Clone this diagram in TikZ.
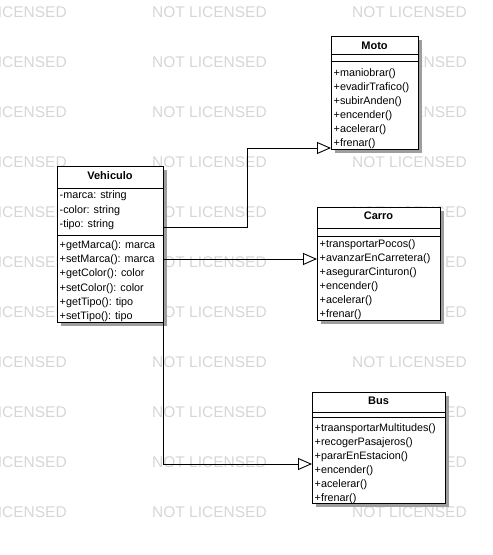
\documentclass[tikz,border=0pt]{standalone}
\usepackage{fontspec}
\setmainfont{Liberation Sans}
\usetikzlibrary{arrows.meta,shadows}

\tikzset{
  wmark/.style={anchor=west, inner sep=0pt, text=black!16,
    font=\fontsize{15.5}{17}\selectfont},
  classbox/.style={draw, fill=white, line width=0.9pt, anchor=north west,
    inner sep=0pt,
    drop shadow={shadow xshift=3.5pt, shadow yshift=-3.5pt,
      fill=black!38, opacity=1}},
  divider/.style={line width=0.9pt},
  classname/.style={anchor=base, inner sep=0pt,
    font=\fontsize{11}{13}\selectfont\bfseries},
  member/.style={anchor=base west, inner sep=0pt,
    font=\fontsize{10.8}{13}\selectfont},
  inherit/.style={line width=0.9pt,
    -{Triangle[open, length=14pt, width=12pt, line width=0.9pt]}},
}

\begin{document}
\begin{tikzpicture}[x=1pt, y=-1pt]
  \useasboundingbox (0,0) rectangle (493,555);
  \clip (0,0) rectangle (493,555);

  % background watermark grid
  \foreach \r in {0,...,10}
    \foreach \c [count=\k] in {-48,152,352}
      \node[wmark] (wm-\r-\k) at (\c, {11.7+50*\r}) {NOT LICENSED};

  % ---------- Moto ----------
  \node[classbox, minimum width=87pt, minimum height=113pt] (moto) at (331,36) {};
  \draw[divider] (moto.west |- 0,54) -- (moto.east |- 0,54);
  \draw[divider] (moto.west |- 0,61) -- (moto.east |- 0,61);
  \node[classname] (moto-name) at ({331+87/2}, 49) {Moto};
  \foreach \t [count=\i from 0] in {+maniobrar(), +evadirTrafico(),
      +subirAnden(), +encender(), +acelerar(), +frenar()}
    \node[member] (moto-m\i) at (333.5, {72.5+3.9+14*\i}) {\t};

  % ---------- Vehiculo ----------
  \node[classbox, minimum width=106pt, minimum height=156pt] (veh) at (57,166) {};
  \draw[divider] (veh.west |- 0,188) -- (veh.east |- 0,188);
  \draw[divider] (veh.west |- 0,235) -- (veh.east |- 0,235);
  \node[classname] (veh-name) at ({57+106/2}, 179) {Vehiculo};
  \foreach \t [count=\i from 0] in {-marca: string, -color: string, -tipo: string}
    \node[member] (veh-a\i) at (59.5, {195+3.9+14.5*\i}) {\t};
  \foreach \t [count=\i from 0] in {+getMarca(): marca, +setMarca(): marca,
      +getColor(): color, +setColor(): color, +getTipo(): tipo, +setTipo(): tipo}
    \node[member] (veh-m\i) at (59.5, {244.5+3.9+14.2*\i}) {\t};

  % ---------- Carro ----------
  \node[classbox, minimum width=123pt, minimum height=113pt] (carro) at (317,207) {};
  \draw[divider] (carro.west |- 0,228) -- (carro.east |- 0,228);
  \draw[divider] (carro.west |- 0,236) -- (carro.east |- 0,236);
  \node[classname] (carro-name) at ({317+123/2}, 219) {Carro};
  \foreach \t [count=\i from 0] in {+transportarPocos(), +avanzarEnCarretera(),
      +asegurarCinturon(), +encender(), +acelerar(), +frenar()}
    \node[member] (carro-m\i) at (319.5, {243.3+3.9+14*\i}) {\t};

  % ---------- Bus ----------
  \node[classbox, minimum width=133pt, minimum height=111pt] (bus) at (312,392) {};
  \draw[divider] (bus.west |- 0,412) -- (bus.east |- 0,412);
  \draw[divider] (bus.west |- 0,417) -- (bus.east |- 0,417);
  \node[classname] (bus-name) at ({312+133/2}, 404) {Bus};
  \foreach \t [count=\i from 0] in {+traansportarMultitudes(), +recogerPasajeros(),
      +pararEnEstacion(), +encender(), +acelerar(), +frenar()}
    \node[member] (bus-m\i) at (314.5, {427.7+3.9+14*\i}) {\t};

  % ---------- generalisation connectors ----------
  \coordinate (bendA) at (247,148);
  \draw[inherit] (veh.east |- 0,227) -| (bendA) -- (moto.west |- bendA);
  \draw[inherit] (veh.east |- 0,259) -- (carro.west |- 0,259);
  \draw[inherit] (veh.south east) |- (bus.west |- 0,464);
\end{tikzpicture}
\end{document}
